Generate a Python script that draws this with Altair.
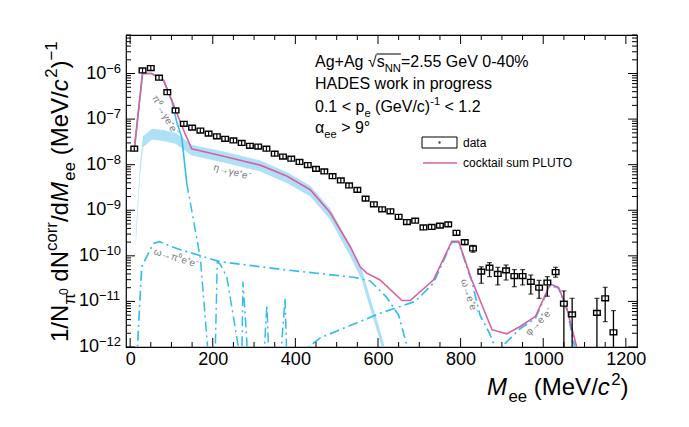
import altair as alt
import pandas as pd

FONT = "Liberation Sans"
BLUE = "#33bdf0"
PINK = "#d9609f"
BAND = "#93d7f4"
GRAY = "#7a7a7a"

# ---------------- measured data points ----------------
data_mass = [10, 30, 50, 70, 90, 110, 130, 150, 170, 190, 210, 230, 250, 270, 290, 310, 330, 350, 370, 390,
             410, 430, 450, 470, 490, 510, 530, 550, 570, 590, 610, 630, 650, 670, 690, 710, 730, 750, 770, 790,
             810, 830, 850, 870, 890, 910, 930, 950, 970, 990, 1010, 1030, 1050, 1070, 1130, 1150, 1170]
data_yield = [2.24e-8, 1.17e-6, 1.32e-6, 8.1e-7, 3.9e-7, 1.55e-7, 7.9e-8, 6.5e-8, 5.6e-8, 4.8e-8,
              4.2e-8, 3.7e-8, 3.4e-8, 3.0e-8, 2.6e-8, 2.5e-8, 2.24e-8, 1.74e-8, 1.51e-8, 1.35e-8,
              1.15e-8, 9.8e-9, 8.1e-9, 7.1e-9, 5.6e-9, 4.5e-9, 3.5e-9, 2.8e-9, 1.8e-9, 1.35e-9,
              1.05e-9, 9.5e-10, 7.2e-10, 5.5e-10, 5.9e-10, 4.2e-10, 4.3e-10, 4.6e-10, 4.9e-10, 3.2e-10,
              2.0e-10, 1.45e-10, 4.5e-11, 5.5e-11, 4.0e-11, 4.8e-11, 3.6e-11, 3.6e-11, 2.7e-11, 2.0e-11,
              2.6e-11, 4.4e-11, 8.9e-12, 5.2e-12, 5.6e-12, 1.17e-11, 2.1e-12]
err_mass = [790, 810, 830, 850, 870, 890, 910, 930, 950, 970, 990, 1010, 1030, 1050, 1070, 1130, 1150, 1170]
err_hi = [3.5e-10, 2.25e-10, 1.7e-10, 5.75e-11, 7.1e-11, 5.6e-11, 6.3e-11, 5.0e-11, 5.0e-11, 3.8e-11,
          2.9e-11, 3.5e-11, 5.6e-11, 1.7e-11, 1.17e-11, 1.17e-11, 2.04e-11, 6.3e-12]
err_lo = [2.9e-10, 1.75e-10, 1.2e-10, 2.5e-11, 3.5e-11, 2.3e-11, 2.95e-11, 2.1e-11, 2.3e-11, 1.45e-11,
          1.17e-11, 1.3e-11, 3.4e-11, 1e-13, 1e-13, 1e-13, 3.6e-12, 1e-13]

# ---------------- cocktail curves (log10 of yield) ----------------
cocktail_mass = [10, 30, 52, 81, 101, 117, 133, 149, 234, 315, 379, 436, 484, 533, 557, 573, 605, 658, 678,
                 734, 779, 795, 827, 876, 912, 944, 981, 1017, 1037, 1057, 1081]
cocktail_log = [-7.65, -6.0, -6.0, -6.15, -6.59, -6.96, -7.32, -7.65, -7.83, -8.01, -8.25, -8.55, -9.05, -9.8,
                -10.24, -10.38, -10.53, -10.98, -10.98, -10.53, -9.68, -9.68, -10.53, -11.62, -11.71, -11.55,
                -11.33, -10.62, -10.69, -11.15, -12.0]

pi0_mass = [10, 30, 52, 81, 101, 113, 125, 131, 137]
pi0_log = [-7.7, -6.0, -6.0, -6.15, -6.6, -7.07, -7.4, -7.9, -8.4]

tail_mass = [137, 170, 192, 205, 211, 218, 234, 262, 264, 270, 273, 282, 285, 322, 331, 337, 362, 375, 380]
tail_log = [-8.4, -10.05, -12.5, -12.5, -10.13, -10.18, -10.46, -12.0, -12.5, -12.5, -10.57, -11.77, -12.5,
            -12.5, -11.08, -12.5, -12.5, -10.93, -12.5]

omega_pi0_mass = [16, 28, 56, 71, 113, 218, 379, 541, 581, 620, 650, 680]
omega_pi0_log = [-12.3, -10.24, -9.73, -9.69, -9.84, -10.13, -10.31, -10.47, -10.55, -10.9, -11.3, -12.3]

omega_ee_mass = [404, 460, 605, 654, 690, 734, 779, 795, 827, 847, 870, 896]
omega_ee_log = [-12.2, -11.8, -11.26, -11.11, -11.0, -10.6, -9.7, -9.7, -10.56, -11.3, -11.7, -12.3]

phi_ee_mass = [880, 910, 944, 981, 1017, 1037, 1057, 1083]
phi_ee_log = [-12.3, -11.9, -11.6, -11.37, -10.64, -10.71, -11.17, -12.3]

eta_mass = [12, 14, 24, 31, 53, 80, 110, 149, 234, 315, 379, 436, 484, 533, 560, 580, 600, 625]
eta_log = [-12.5, -9.6, -8.1, -7.5, -7.33, -7.36, -7.42, -7.68, -7.85, -8.03, -8.28, -8.58, -9.08, -9.9,
           -10.4, -11.0, -11.6, -12.4]
eta_band_halfwidth = 0.12  # decades

x_major = [0, 200, 400, 600, 800, 1000, 1200]
x_minor = [v for v in range(0, 1201, 50) if v % 200]
y_decades = [-12, -11, -10, -9, -8, -7, -6]

# ---------------- layout ----------------
W, H = 511, 312
xs = alt.Scale(domain=[-10, 1227], nice=False, zero=False)
ys = alt.Scale(type="log", domain=[1e-12, 7e-6], nice=False)
XAX = alt.Axis(values=x_major, format="d", labelFontSize=18, labelFont=FONT, labelColor="black", ticks=False,
               domain=False, grid=False, title=None, labelPadding=3, labelOverlap=False, labelFlush=False)
dummy = pd.DataFrame({"d": [0]})


def X(f):
    return alt.X(f, type="quantitative", scale=xs, axis=XAX)


def Y(f):
    return alt.Y(f, type="quantitative", scale=ys, axis=None)


def Y2(f):
    return alt.Y2(f)


WD = {' ': 278, '%': 889, '(': 333, ')': 333, '+': 584, '-': 333, '.': 278, '/': 278, '<': 584, '=': 584,
      '>': 584, 'A': 667, 'D': 722, 'E': 667, 'G': 778, 'H': 722, 'L': 556, 'M': 833, 'N': 722, 'O': 778,
      'P': 667, 'S': 667, 'T': 611, 'U': 722, 'V': 667, 'a': 556, 'c': 500, 'd': 556, 'e': 556, 'g': 556,
      'i': 222, 'k': 500, 'l': 222, 'm': 833, 'n': 556, 'o': 556, 'p': 556, 'r': 333, 's': 500, 't': 278,
      'u': 556, 'w': 722, 'π': 573, 'α': 578, '°': 400, '√': 549, '−': 584}


def wid(s, size):
    return sum(WD.get(c, 556) for c in s) * size / 1000.0


def txt(s, x, y, size, angle=0, italic=False, align="left", baseline="alphabetic", color="black"):
    return alt.Chart(dummy).mark_text(text=s, fontSize=size, font=FONT,
                                      fontStyle="italic" if italic else "normal", angle=angle,
                                      align=align, baseline=baseline, color=color).encode(
        x=alt.value(x), y=alt.value(y))


def row(pieces, x0, y0, F, angle=0):
    """Lay out text pieces (text, size factor, shift factor, italic) along a line."""
    out = []
    pos = 0.0
    starts = []
    for (s, sf, sh, ital) in pieces:
        size = F * sf
        shift = F * sh
        lead = len(s) - len(s.lstrip(" "))
        core = s.strip(" ")
        p = pos + wid(" " * lead, size)
        if angle == 0:
            x, y = x0 + p, y0 + shift
        else:
            x, y = x0 + shift, y0 - p
        starts.append(p)
        out.append(txt(core, x, y, size, angle=angle, italic=ital))
        pos += wid(s, size) + (0.06 * F if ital else 0)
    return out, starts, pos


layers = []

# eta Dalitz band
eta_df = pd.DataFrame({"m": eta_mass,
                       "lo": [10 ** (l - eta_band_halfwidth) for l in eta_log],
                       "hi": [10 ** (l + eta_band_halfwidth) for l in eta_log]})
layers.append(alt.Chart(eta_df).mark_area(clip=True, color=BAND, opacity=0.75).encode(
    x=X("m"), y=Y("lo"), y2=Y2("hi")))


def curve(mass, logs, color, dash=None, width=1.3):
    df = pd.DataFrame({"m": mass, "v": [10 ** l for l in logs], "i": list(range(len(mass)))})
    kw = dict(clip=True, color=color, strokeWidth=width)
    if dash:
        kw["strokeDash"] = dash
    return alt.Chart(df).mark_line(**kw).encode(x=X("m"), y=Y("v"), order=alt.Order("i:Q"))


DD = [10, 4, 2, 4]
layers.append(curve(tail_mass, tail_log, BLUE, DD, 1.5))
layers.append(curve(omega_pi0_mass, omega_pi0_log, BLUE, DD, 1.7))
layers.append(curve(omega_ee_mass, omega_ee_log, BLUE, DD, 1.7))
layers.append(curve(phi_ee_mass, phi_ee_log, BLUE, DD, 1.7))
layers.append(curve(pi0_mass, pi0_log, BLUE, None, 1.6))
layers.append(curve(cocktail_mass, cocktail_log, PINK, None, 1.6))

# data: stat error bars
err_df = pd.DataFrame({"m": err_mass, "lo": err_lo, "hi": err_hi})
layers.append(alt.Chart(err_df).mark_rule(clip=True, color="black", strokeWidth=1.3).encode(
    x=X("m"), y=Y("lo"), y2=Y2("hi")))
for yf in ("lo", "hi"):
    layers.append(alt.Chart(err_df).mark_tick(clip=True, color="black", orient="horizontal",
                                              size=5, thickness=1.2).encode(x=X("m"), y=Y(yf)))
# data: boxes with center marker
box_half = 8
d_df = pd.DataFrame({"m": data_mass, "v": data_yield})
d_df["x1"] = d_df["m"] - box_half
d_df["x2"] = d_df["m"] + box_half
d_df["y1"] = d_df["v"] / 1.13
d_df["y2"] = d_df["v"] * 1.13
layers.append(alt.Chart(d_df).mark_rect(clip=True, fill="white", stroke="black", strokeWidth=1.4).encode(
    x=X("x1"), x2=alt.X2("x2"), y=Y("y1"), y2=Y2("y2")))
layers.append(alt.Chart(d_df).mark_rule(clip=True, color="black", strokeWidth=1.2).encode(
    x=X("m"), y=Y("y1"), y2=Y2("y2")))

# frame ticks
for vals, ln in ((x_major, 9), (x_minor, 5)):
    tdf = pd.DataFrame({"t": vals})
    layers.append(alt.Chart(tdf).mark_rule(color="black", strokeWidth=1).encode(
        x=X("t"), y=alt.value(H), y2=alt.value(H - ln)))
    layers.append(alt.Chart(tdf).mark_rule(color="black", strokeWidth=1).encode(
        x=X("t"), y=alt.value(0), y2=alt.value(ln)))
y_major = [10.0 ** d for d in y_decades]
y_minor = [k * 10.0 ** d for d in range(-12, -5) for k in range(2, 10) if k * 10.0 ** d <= 7e-6]
for vals, ln in ((y_major, 9), (y_minor, 5)):
    tdf = pd.DataFrame({"t": vals})
    layers.append(alt.Chart(tdf).mark_rule(color="black", strokeWidth=1).encode(
        y=Y("t"), x=alt.value(0), x2=alt.value(ln)))
    layers.append(alt.Chart(tdf).mark_rule(color="black", strokeWidth=1).encode(
        y=Y("t"), x=alt.value(W), x2=alt.value(W - ln)))

# y tick labels  10^{-n}
for d in y_decades:
    ex = "−" + str(-d)
    base = -5 - wid(ex, 13)
    ldf = pd.DataFrame({"v": [10.0 ** d]})
    layers.append(alt.Chart(ldf).mark_text(text="10", fontSize=18, font=FONT, align="right",
                                           baseline="middle", color="black").encode(
        y=Y("v"), x=alt.value(base)))
    layers.append(alt.Chart(ldf).mark_text(text=ex, fontSize=13, font=FONT, align="left",
                                           baseline="alphabetic", dy=-1, color="black").encode(
        y=Y("v"), x=alt.value(base)))

# axis titles
xt, _, _ = row([("M", 1, 0, True), ("ee", 0.7, 0.3, False), (" (MeV/", 1, 0, False), ("c", 1, 0, True),
                ("2", 0.7, -0.42, False), (")", 1, 0, False)], 361, 360, 24)
layers += xt
yt, _, _ = row([("1/N", 1, 0, False), ("π", 0.7, 0.3, False), ("0", 0.5, 0.0, False), (" dN", 1, 0, False),
                ("corr", 0.7, -0.45, False), ("/d", 1, 0, False), ("M", 1, 0, True), ("ee", 0.7, 0.3, False),
                (" (MeV/", 1, 0, False), ("c", 1, 0, True), ("2", 0.7, -0.45, False), (")", 1, 0, False),
                ("−1", 0.7, -0.45, False)], -58, 307, 24, angle=270)
layers += yt

# annotation text
F = 16
l1, st, end = row([("Ag+Ag ", 1, 0, False), ("√", 1, 0, False), ("s", 1, 0, False), ("NN", 0.7, 0.3, False),
                   ("=2.55 GeV 0-40%", 1, 0, False)], 189, 32, F)
layers += l1
layers.append(alt.Chart(dummy).mark_rule(color="black", strokeWidth=1).encode(
    x=alt.value(189 + st[2]), x2=alt.value(189 + st[4]), y=alt.value(32 - 13)))
l2, _, _ = row([("HADES work in progress", 1, 0, False)], 189, 54, F)
layers += l2
l3, _, _ = row([("0.1 < p", 1, 0, False), ("e", 0.7, 0.3, False), (" (GeV/c)", 1, 0, False),
                ("-1", 0.7, -0.45, False), (" < 1.2", 1, 0, False)], 189, 77, F)
layers += l3
l4, _, _ = row([("α", 1, 0, False), ("ee", 0.7, 0.3, False), (" > 9°", 1, 0, False)], 189, 98, F)
layers += l4

# legend
layers.append(alt.Chart(dummy).mark_rect(fill="white", stroke="black", strokeWidth=1).encode(
    x=alt.value(296), x2=alt.value(331), y=alt.value(102), y2=alt.value(113)))
layers.append(alt.Chart(dummy).mark_point(filled=True, color="black", size=6).encode(
    x=alt.value(313.5), y=alt.value(107.5)))
layers.append(txt("data", 337, 112, 12))
layers.append(alt.Chart(dummy).mark_rule(color=PINK, strokeWidth=1.5).encode(
    x=alt.value(297), x2=alt.value(331), y=alt.value(128)))
layers.append(txt("cocktail sum PLUTO", 337, 132, 12))

# component labels
for s, x, y, a in (("π⁰→γe⁺e⁻", 39, 80, 60), ("η→γe⁺e⁻", 106, 137, 15), ("ω→π⁰e⁺e⁻", 50, 223, 17),
                   ("ω→e⁺e⁻", 343, 261, 72), ("φ→e⁺e⁻", 413, 287, 315)):
    layers.append(txt(s, x, y, 10, angle=a, align="center", baseline="middle", color=GRAY))

chart = alt.layer(*layers).properties(
    width=W, height=H,
    autosize=alt.AutoSizeParams(type="none"),
    padding={"left": 118, "top": 27, "right": 44, "bottom": 72},
    background="white",
).configure_view(stroke="black", strokeWidth=1.2)

chart.save("out.html", embed_options={"renderer": "svg", "actions": False})
